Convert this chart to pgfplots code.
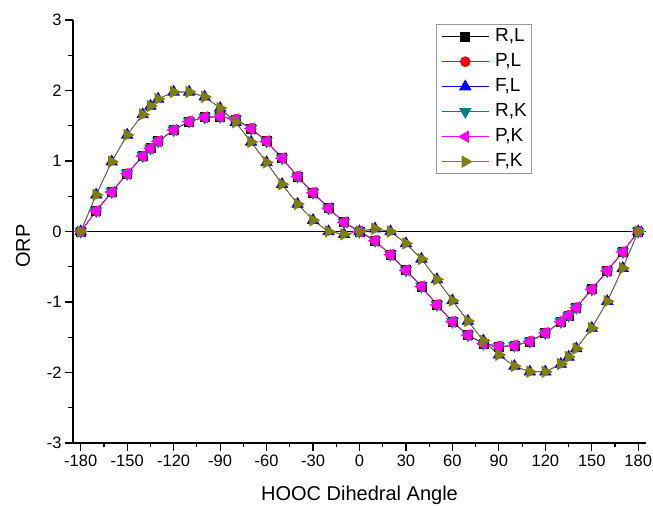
\documentclass[border=0pt]{standalone}
\usepackage{pgfplots}
\usepackage{pgfplotstable}
\pgfplotsset{compat=1.18}
\usepackage{fontspec}
\setmainfont{Liberation Sans}
\definecolor{cteal}{RGB}{0,128,128}
\definecolor{colive}{RGB}{128,128,0}
\definecolor{cmag}{RGB}{255,0,255}
\definecolor{cred}{RGB}{255,0,0}
\definecolor{cblue}{RGB}{0,0,255}
\pgfplotstableread{
a p f
-180 0 0
-170 0.29 0.52
-160 0.56 0.99
-150 0.82 1.37
-140 1.07 1.66
-135 1.18 1.78
-130 1.28 1.88
-120 1.44 1.98
-110 1.56 1.98
-100 1.62 1.91
-90 1.63 1.75
-80 1.59 1.55
-70 1.46 1.27
-60 1.28 0.98
-50 1.04 0.67
-40 0.78 0.39
-30 0.55 0.16
-20 0.33 0.00
-10 0.13 -0.04
0 0 0
10 -0.13 0.04
20 -0.33 0.00
30 -0.55 -0.17
40 -0.78 -0.39
50 -1.04 -0.68
60 -1.28 -0.98
70 -1.47 -1.27
80 -1.59 -1.55
90 -1.63 -1.75
100 -1.62 -1.91
110 -1.56 -1.99
120 -1.44 -1.99
130 -1.28 -1.88
135 -1.19 -1.78
140 -1.08 -1.66
150 -0.82 -1.37
160 -0.56 -0.99
170 -0.29 -0.52
180 0 0
}\data
\begin{document}
\begin{tikzpicture}
\begin{axis}[name=ax, scale only axis, width=573pt, height=423pt,
 xmin=-185, xmax=185, ymin=-3, ymax=3,
 axis lines=left, axis line style={-, line width=1.2pt},
 xtick={-180,-150,...,180}, ytick={-3,-2,...,3},
 minor x tick num=1, minor y tick num=1,
 tick align=outside, major tick length=8pt, minor tick length=4.5pt,
 tick style={black, line width=1.1pt},
 tick label style={font=\fontsize{16.5}{18}\selectfont},
 /pgf/number format/assume math mode=true,
 xlabel={HOOC Dihedral Angle}, ylabel={ORP},
 label style={font=\fontsize{20}{24}\selectfont},
 xlabel style={at={(axis description cs:0.5,-0.1365)}, anchor=base},
 ylabel style={at={(axis description cs:-0.0872,0.465)}, anchor=center},
 legend style={at={(axis description cs:0.6335,0.99)}, anchor=north west,
   draw=gray!80, line width=0.9pt, font=\fontsize{19}{22}\selectfont,
   inner xsep=5pt, inner ysep=3pt, row sep=7pt, column sep=6pt,
   nodes={inner sep=0pt, text height=14pt, text depth=4pt}},
 legend cell align=left,
 legend image code/.code={\draw[mark repeat=2, mark phase=2, #1] plot coordinates {(0pt,0pt) (23.5pt,0pt) (47pt,0pt)};},
]
\addplot[black, line width=1.5pt, forget plot] coordinates {(-185,0) (185,0)};
\addplot[black, line width=0.7pt, mark=square*, mark size=4.5pt, mark options={solid}] table[x=a,y=p]{\data};
\addlegendentry{R,L}
\addplot[cred, line width=0.7pt, mark=*, mark size=5pt, mark options={solid}] table[x=a,y=p]{\data};
\addlegendentry{P,L}
\addplot[cblue, line width=0.7pt, mark=triangle*, mark size=6.5pt, mark options={solid}] table[x=a,y=f]{\data};
\addlegendentry{F,L}
\addplot[cteal, line width=0.7pt, mark=triangle*, mark size=6.5pt, mark options={solid, rotate=180}] table[x=a,y=p]{\data};
\addlegendentry{R,K}
\addplot[cmag, line width=0.7pt, mark=triangle*, mark size=6.5pt, mark options={solid, rotate=90}] table[x=a,y=p]{\data};
\addlegendentry{P,K}
\addplot[colive, line width=0.7pt, mark=triangle*, mark size=6.5pt, mark options={solid, rotate=-90}] table[x=a,y=f]{\data};
\addlegendentry{F,K}
\end{axis}
\pgfresetboundingbox
\path[use as bounding box] ([xshift=-73pt,yshift=-63pt]ax.south west) rectangle ([xshift=7pt,yshift=20pt]ax.north east);
\end{tikzpicture}
\end{document}
